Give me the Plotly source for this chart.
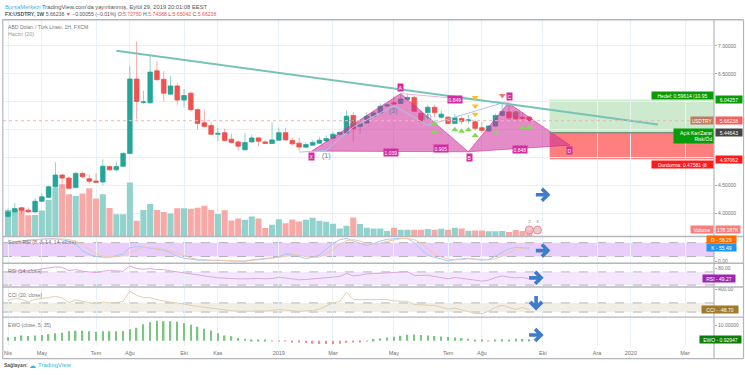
import plotly.graph_objects as go

W, H = 745, 375
# ---------- data (weekly bars, first bar = week of 2 Apr 2018) ----------
opens = [3.95,4.03,4.10,4.06,4.03,4.22,4.29,4.48,4.69,4.635,4.465,4.718,4.624,4.582,4.565,4.841,4.783,4.847,5.077,6.408,
 5.99,5.984,6.555,6.402,6.137,6.284,6.031,6.155,5.86,5.625,5.578,5.419,5.448,5.33,5.283,5.142,5.283,5.354,5.283,5.254,
 5.313,5.448,5.307,5.26,5.189,5.225,5.26,5.30,5.348,5.419,5.442,5.755,5.56,5.619,5.743,5.802,5.925,5.984,5.972,6.043,
 6.078,5.796,5.807,5.902,5.725,5.725,5.613,5.701,5.66,5.642,5.536,5.478,5.566,5.755,5.819,5.813,5.725,5.7275]
highs = [4.09,4.19,4.12,4.11,4.28,4.36,4.50,4.92,4.71,4.665,4.753,4.753,4.706,4.724,4.971,4.859,4.936,5.10,6.644,7.08,
 6.196,6.832,6.726,6.55,6.461,6.332,6.226,6.184,5.884,5.86,5.637,5.537,5.519,5.43,5.313,5.442,5.413,5.372,5.313,5.631,
 5.537,5.537,5.36,5.36,5.272,5.313,5.372,5.401,5.46,5.46,5.843,5.813,5.678,5.813,5.843,5.972,5.972,6.108,6.137,6.137,
 6.108,5.843,5.949,5.949,5.843,5.743,5.784,5.737,5.766,5.678,5.637,5.578,5.784,5.99,5.99,5.843,5.813,5.74388]
lows = [3.93,4.03,3.99,4.02,4.02,4.21,4.28,4.46,4.46,4.44,4.46,4.635,4.53,4.547,4.506,4.771,4.771,4.836,5.065,5.69,
 5.96,5.96,6.385,6.008,6.125,5.949,5.902,5.831,5.507,5.548,5.407,5.301,5.295,5.254,5.124,5.13,5.272,5.207,5.242,5.242,
 5.301,5.307,5.224,5.124,5.177,5.22,5.248,5.29,5.342,5.413,5.43,5.283,5.43,5.607,5.731,5.784,5.914,5.949,5.96,6.02,
 5.819,5.637,5.695,5.725,5.695,5.601,5.601,5.595,5.607,5.489,5.442,5.466,5.548,5.743,5.66,5.66,5.66,5.65042]
closes = [4.03,4.09,4.06,4.03,4.22,4.30,4.48,4.69,4.635,4.453,4.718,4.659,4.577,4.559,4.847,4.783,4.841,5.077,6.408,6.008,
 6.0,6.532,6.396,6.155,6.284,6.031,6.114,5.86,5.613,5.56,5.419,5.436,5.307,5.272,5.207,5.272,5.354,5.295,5.254,5.319,
 5.448,5.319,5.248,5.19,5.236,5.272,5.313,5.342,5.419,5.454,5.743,5.519,5.607,5.743,5.802,5.919,5.949,5.96,6.049,6.078,
 5.831,5.654,5.902,5.807,5.778,5.613,5.713,5.654,5.678,5.525,5.489,5.566,5.755,5.825,5.713,5.696,5.702,5.66238]
volumes_k = [790,790,870,630,640,770,1090,1470,1570,1270,1210,1290,1450,1140,1270,850,660,660,1620,460,
 790,970,790,730,680,840,840,830,860,920,790,670,780,470,530,490,590,530,240,340,
 510,390,500,440,490,550,460,430,370,230,310,560,360,250,230,230,150,250,190,190,
 190,190,210,190,220,190,250,230,160,170,170,140,140,150,120,180,150,178.187]
stoch_k = [78.5,84.2,87.1,91.4,94.3,95.7,97.1,97.1,92.8,87.1,75.7,44.2,29.9,19.9,17,17,24.2,29.9,58.5,62.8,
 61.4,55.6,49.9,47.1,37.1,21.3,12.7,7,4.2,4.2,4.2,4.2,2.7,0.5,0,0.5,5.6,9.9,11.3,14.2,
 18.5,31.3,29.9,19.9,11.3,17,27,51.4,75.7,92.8,98.5,87.1,75.7,67.1,75.7,87.1,94.3,97.1,98.5,98.5,
 80,51.4,27,15.6,9.9,0.5,7,9.9,12.7,7,4.2,7,21.3,37.1,52.8,59.9,58.5,55.49]
stoch_d = [76,78,83,87,91,94,95,96,96,93,85,70,50,31,22,18,19,24,37,50,
 61,60,56,51,45,35,24,14,8,5,4,4,4,3,1,0,2,5,9,12,
 15,21,27,27,20,16,18,32,51,73,89,93,87,77,73,77,86,93,97,98,
 93,77,53,31,18,9,6,6,10,10,8,6,11,22,37,50,57,58.29]
rsi = [71,72,73,75,76,79,82,85,84,73,77,72,70,68,72,74,73,72,88,80,
 78,80,77,77,73,70,68,63,60,57,54,52,51,49,49,49,50,50,49,50,
 54,51,49,46,47,49,51,53,55,56,65,58,60,64,65,67,67,68,70,71,
 59,60,60,56,53,49,53,51,48,45,42,45,53,58,54,52,53,49.27]
cci = [157,193,178,121,178,193,214,243,207,107,164,136,107,78,121,100,100,136,357,264,
 214,214,171,136,114,100,71,43,21,7,-14,-36,-57,-71,-79,-86,-79,-71,-79,-64,
 -43,-57,-79,-86,-71,-64,-36,36,100,128,335,171,171,186,186,186,171,143,136,136,
 64,57,64,43,7,-36,-14,-50,-79,-129,-136,-79,0,50,0,-43,0,-48.7]
ewo = [2.14,2.56,3.4,3.0,3.4,3.6,4.06,4.7,5.1,6.0,6.4,6.4,6.0,5.55,6.0,6.0,6.0,6.2,7.3,8.3,
 10.5,11.75,12.8,12.4,12.4,12.2,11.1,10.25,8.97,7.7,6.6,4.7,3.4,2.8,1.7,1.3,0.6,0.2,0.1,-0.2,
 -0.2,-0.3,-0.85,-1.2,-1.5,-1.9,-2.1,-2.1,-2.1,-1.9,-1.3,-1.1,-0.8,-0.3,1.1,1.5,2.1,2.5,3.2,3.8,
 4.0,3.6,3.4,3.0,2.6,2.3,2.1,1.7,1.3,0.6,0.2,-0.1,0.2,0.9,0.4,1.2,1.0,0.92947]
weeks = list(range(len(closes)))

x_tick_idx = [0,5,13,18,26,31,40,48,57,65,70,79,87,92,100]
x_tick_txt = ["Nis","May","Tem","Ağu","Eki","Kas","2019","Mar","May","Tem","Ağu","Eki","Ara","2020","Mar"]

trend_x, trend_y = [16, 96], [6.915, 5.595]
pat1_x, pat1_y = [44.86, 58, 68, 44.86], [5.118, 6.148, 5.106, 5.118]
pat2_x, pat2_y = [68, 73.9, 83, 68], [5.106, 5.979, 5.224, 5.106]
ac_x, ac_y = [58, 73.9], [6.148, 5.979]
wave_x = [43, 47, 51, 57, 62, 73]
wave_y = [5.10, 5.13, 5.55, 5.93, 5.58, 5.98]
up_x = [63,63,66,67,68,69,72,76,77]
up_y = [5.613,5.466,5.50,5.472,5.50,5.396,5.449,5.542,5.542]
yellow_x, yellow_y = [69,69,69], [6.078,5.926,5.777]
red_x, red_y = [73], [6.113]
LAST, TARGET, ENTRY, STOP = 5.66238, 6.04257, 5.44643, 4.97062
POS_X0 = 80

PINK = "#d52ca0"
GREEN, RED = "#26a69a", "#ef5350"
GREY = "#6f6f6f"
FONT = "Liberation Sans"

def dom(top, bot):
    return [(H - bot) / H, (H - top) / H]
XDOM = [3 / W, 714 / W]
XRANGE = [-0.74, 104.28]

fig = go.Figure()

# volume (base axis y)
fig.add_bar(x=weeks, y=volumes_k, yaxis="y", xaxis="x",
            marker_color=["#92d2cc" if c >= o else "#f7a9a7" for o, c in zip(opens, closes)],
            marker_line_width=0, width=0.9, hoverinfo="skip")

# candles: pale wicks (candlestick) + solid bodies (bars from open to close)
fig.add_candlestick(x=weeks, open=opens, high=highs, low=lows, close=closes, yaxis="y2", xaxis="x",
    increasing=dict(line=dict(color="rgba(38,166,154,0.5)", width=1), fillcolor="rgba(0,0,0,0)"),
    decreasing=dict(line=dict(color="rgba(239,83,80,0.5)", width=1), fillcolor="rgba(0,0,0,0)"),
    hoverinfo="skip", showlegend=False)
candle_cols = [GREEN if c >= o else RED for o, c in zip(opens, closes)]
fig.add_bar(x=weeks, y=[abs(c - o) for o, c in zip(opens, closes)], base=[min(o, c) for o, c in zip(opens, closes)],
            yaxis="y2", xaxis="x", width=0.72, marker_color=candle_cols,
            marker_line=dict(color=candle_cols, width=0.5), hoverinfo="skip")

# pattern triangles
for px_, py_ in ((pat1_x, pat1_y), (pat2_x, pat2_y)):
    fig.add_scatter(x=px_, y=py_, yaxis="y2", xaxis="x", mode="lines", fill="toself",
                    fillcolor="rgba(205,45,155,0.55)", line=dict(color="rgba(205,45,155,0.6)", width=1),
                    hoverinfo="skip")
fig.add_scatter(x=ac_x, y=ac_y, yaxis="y2", xaxis="x", mode="lines",
                line=dict(color="#eeb3dc", width=1), hoverinfo="skip")
fig.add_scatter(x=wave_x, y=wave_y, yaxis="y2", xaxis="x", mode="lines",
                line=dict(color="#a9c6e6", width=1), hoverinfo="skip")
# trend line
fig.add_scatter(x=trend_x, y=trend_y, yaxis="y2", xaxis="x", mode="lines",
                line=dict(color="#77c4b6", width=2), hoverinfo="skip")
# signal triangles
fig.add_scatter(x=up_x, y=up_y, yaxis="y2", xaxis="x", mode="markers", hoverinfo="skip",
                marker=dict(symbol="triangle-up", size=6, color="#83d85c", line_width=0))
fig.add_scatter(x=yellow_x, y=yellow_y, yaxis="y2", xaxis="x", mode="markers", hoverinfo="skip",
                marker=dict(symbol="triangle-down", size=6, color="#fbc02d", line_width=0))
fig.add_scatter(x=red_x, y=red_y, yaxis="y2", xaxis="x", mode="markers", hoverinfo="skip",
                marker=dict(symbol="triangle-down", size=6, color="#f6776b", line_width=0))
# event flags
fig.add_scatter(x=[77.0, 78.2], y=[3.705, 3.705], yaxis="y2", xaxis="x", mode="markers+text",
                text=["2", "3"], textposition="top center", textfont=dict(size=4, color="#777", family=FONT),
                marker=dict(symbol="circle", size=8, color="rgba(230,190,200,0.8)",
                            line=dict(color="#ef8a8a", width=1)), hoverinfo="skip")

# oscillators
fig.add_scatter(x=weeks, y=stoch_k, yaxis="y3", xaxis="x", mode="lines",
                line=dict(color="#a5c8f5", width=1), hoverinfo="skip")
fig.add_scatter(x=weeks, y=stoch_d, yaxis="y3", xaxis="x", mode="lines",
                line=dict(color="#f6c7a4", width=1), hoverinfo="skip")
fig.add_scatter(x=weeks, y=rsi, yaxis="y4", xaxis="x", mode="lines",
                line=dict(color="#d9a9e2", width=1), hoverinfo="skip")
fig.add_scatter(x=weeks, y=cci, yaxis="y5", xaxis="x", mode="lines",
                line=dict(color="#dfcfb0", width=1), hoverinfo="skip")
fig.add_bar(x=weeks, y=ewo, yaxis="y6", xaxis="x", width=0.22,
            marker_color=["#7cc481" if v >= 0 else "#f28b8b" for v in ewo],
            marker_line_width=0, hoverinfo="skip")

grid = "#e8f1f5"
def yax(domain, rng, vals, txt, **kw):
    return dict(domain=domain, range=rng, side="right", anchor="x", tickmode="array", tickvals=vals, ticktext=txt,
                tickfont=dict(size=5, color=GREY, family=FONT), ticks="outside", ticklen=2, tickcolor="#aaaaaa",
                tickwidth=1, showgrid=False, zeroline=False, showline=False, fixedrange=True, **kw)

price_vals = [7.0, 6.5, 4.5, 4.0]
hidden_grid_vals = [6.0, 5.5, 5.0]
layout = dict(
    width=W, height=H, autosize=False, margin=dict(l=0, r=0, t=0, b=0),
    paper_bgcolor="#ffffff", plot_bgcolor="#ffffff", showlegend=False, barmode="overlay",
    font=dict(family=FONT, size=5, color=GREY),
    xaxis=dict(domain=XDOM, range=XRANGE, anchor="y6", tickmode="array", tickvals=x_tick_idx, ticktext=x_tick_txt,
               tickfont=dict(size=5.5, color=GREY, family=FONT), ticks="", ticklabelstandoff=2,
               showgrid=True, gridcolor=grid, gridwidth=1,
               zeroline=False, showline=False, rangeslider=dict(visible=False), fixedrange=True),
    yaxis=dict(domain=dom(18, 236.5), range=[0, 6560], visible=False, fixedrange=True),
    yaxis2=dict(overlaying="y", side="right", anchor="x", range=[3.599, 7.468], tickmode="array",
                tickvals=price_vals, ticktext=[f"{v:.5f}" for v in price_vals],
                tickfont=dict(size=5, color=GREY, family=FONT), ticks="outside", ticklen=2, tickcolor="#aaaaaa",
                showgrid=True, gridcolor=grid, gridwidth=1, zeroline=False, showline=False, fixedrange=True,
                minor=dict(tickmode="array", tickvals=hidden_grid_vals, showgrid=True, gridcolor=grid, gridwidth=1, ticks="")),
    yaxis3=yax(dom(238, 263), [-4.6, 102.5], [0], ["0.00"]),
    yaxis4=yax(dom(264.5, 287.5), [26, 94.8], [80], ["80.00"]),
    yaxis5=yax(dom(288.5, 318), [-198, 436], [400], ["400.00"]),
    yaxis6=yax(dom(319, 348), [-3.6, 14.8], [10], ["10.00000"]),
)

shapes = []
def band(yref, lo, hi, color):
    shapes.append(dict(type="rect", xref="x domain", yref=yref, x0=0, x1=1, y0=lo, y1=hi,
                       fillcolor=color, line_width=0, layer="below"))
    for v in (lo, hi):
        shapes.append(dict(type="line", xref="x domain", yref=yref, x0=0, x1=1, y0=v, y1=v,
                           line=dict(color="#9a9a9a", width=0.7, dash="dash"), layer="below"))
band("y3", 20, 80, "#e9cdfb")
band("y4", 30, 70, "#f4e7fd")
band("y5", -100, 100, "#f1eee5")
# position tool
shapes.append(dict(type="rect", xref="x", yref="y2", x0=POS_X0, x1=XRANGE[1], y0=ENTRY, y1=TARGET,
                   fillcolor="rgba(76,175,80,0.28)", line_width=0, layer="below"))
shapes.append(dict(type="rect", xref="x", yref="y2", x0=POS_X0, x1=XRANGE[1], y0=STOP, y1=ENTRY,
                   fillcolor="rgba(255,0,0,0.5)", line_width=0, layer="below"))
shapes.append(dict(type="line", xref="x", yref="y2", x0=POS_X0, x1=XRANGE[1], y0=ENTRY, y1=ENTRY,
                   line=dict(color="#7d8f7d", width=1.5)))
# last price line
shapes.append(dict(type="line", xref="x", yref="y2", x0=XRANGE[0], x1=XRANGE[1], y0=LAST, y1=LAST,
                   line=dict(color="#f6b3b0", width=1, dash="dot")))
# frame and pane separators
FRAME = "#b4b6bc"
for yy in (18, 237, 264, 288, 318.5, 360.5):
    shapes.append(dict(type="line", xref="paper", yref="paper", x0=2.5/W, x1=743.5/W, y0=1-yy/H, y1=1-yy/H,
                       line=dict(color=FRAME, width=1.4)))
for xx, t, b in ((2.8, 18, 360.5), (714, 18, 360.5), (743.5, 18, 360.5)):
    shapes.append(dict(type="line", xref="paper", yref="paper", x0=xx/W, x1=xx/W, y0=1-t/H, y1=1-b/H,
                       line=dict(color=FRAME, width=1.2)))
# blue arrows, pixel-sized and anchored to chart coordinates
BLUE = "#3d7ccb"
RIGHT = "M-7,0 L4,0 M-1,6 L5,0 L-1,-6"
DOWN = "M0,7 L0,-4 M6,1 L0,-5 L-6,1"
for xv, yv, yr, p in ((79, 4.336, "y2", RIGHT), (79, 45.7, "y3", RIGHT), (78, 52, "y4", RIGHT),
                      (78, 100, "y5", DOWN), (78, 3.6, "y6", RIGHT)):
    shapes.append(dict(type="path", xref="x", yref=yr, xsizemode="pixel", ysizemode="pixel",
                       xanchor=xv, yanchor=yv, path=p, line=dict(color=BLUE, width=3.6)))
layout["shapes"] = shapes

ann = []
def page_text(x, y, text, size=5.3, color=GREY):
    ann.append(dict(xref="paper", yref="paper", x=x/W, y=1-y/H, text=text, showarrow=False, xanchor="left",
                    yanchor="middle", align="left", font=dict(size=size, color=color, family=FONT)))
R = "#ef5350"
D = "#555555"
page_text(3, 5, "<span style='color:#3bb3e4'>BorsaMerkezi</span> TradingView.com'da yayınlanmış, Eylül 29, 2019 20:01:08 EEST", 5.8, D)
page_text(3, 12, f"<b>FX:USDTRY, 1W</b> 5.66238 <span style='color:{R}'>▼</span> −0.00055 (−0.01%) "
                 f"O:<span style='color:{R}'>5.72750</span> H:<span style='color:{R}'>5.74388</span> "
                 f"L:<span style='color:{R}'>5.65042</span> C:<span style='color:{R}'>5.66238</span>", 5.15, D)
page_text(6, 25, "ABD Doları / Türk Lirası, 1H, FXCM", 5.1, "#777777")
page_text(6, 32, "Hacim (20)", 5.3, "#999999")
page_text(6, 243, "Stoch RSI (8, 3, 14, 14, close)", 5.1, "#777777")
page_text(6, 272, "RSI (14, close)", 5.1, "#777777")
page_text(6, 296, "CCI (20, close)", 5.1, "#777777")
page_text(6, 326, "EWO (close, 5, 35)", 5.1, "#777777")
page_text(2, 367, "<b>Sağlayan:</b>", 5, "#555555")
page_text(27, 367, "☁", 7, "#3bb3e4")
page_text(35.5, 367, "TradingView", 6, "#3bb3e4")

def tag(x, y, text, bg, color="#ffffff", yref="y2", xref="x", xanchor="center", size=5, **kw):
    ann.append(dict(xref=xref, yref=yref, x=x, y=y, text=text, showarrow=False, xanchor=xanchor, yanchor="middle",
                    bgcolor=bg, borderpad=0.5, font=dict(size=size, color=color, family=FONT), **kw))
# pattern tags
tag(44.9, 5.03, "X", PINK)
tag(58, 6.25, "A", PINK)
tag(68.1, 4.995, "B", PINK)
tag(74, 6.09, "C", PINK)
tag(83, 5.136, "D", PINK)
tag(66, 6.042, "0.849", PINK)
tag(56.6, 5.095, "1.039", PINK)
tag(64, 5.166, "0.905", PINK)
tag(75.6, 5.154, "0.848", PINK)
for xv, yv, s in ((47.1, 5.03, "(1)"), (50.8, 5.613, "(2)"), (57, 5.83, "(3)"), (62, 5.724, "(4)"), (75.1, 5.784, "(5)")):
    ann.append(dict(xref="x", yref="y2", x=xv, y=yv, text=s, showarrow=False,
                    font=dict(size=7, color="#6f7f95", family=FONT)))
# price scale tags
AX = 714.5 / W
tag(AX, TARGET, "6.04257", "#089c08", xref="paper", xanchor="left", width=25)
tag(AX, ENTRY, "5.44643", "#444444", xref="paper", xanchor="left", width=25)
tag(AX, STOP, "4.97062", "#ff1a1a", xref="paper", xanchor="left", width=25)
tag(AX, LAST, "5.66238", "#f45f5f", xref="paper", xanchor="left", width=25)
tag(713.5/W, LAST, "USDTRY", "#bd7a5e", xref="paper", xanchor="right", width=21)
tag(713.5/W, 6.12, "Hedef: 0.59614 (10.95", "#089c08", xref="paper", xanchor="right", width=60)
tag(713.5/W, 4.878, "Durdurma: 0.47581 (8", "#ff1a1a", xref="paper", xanchor="right", width=60)
tag(713.5/W, 5.383, "Açık Kar/Zarar<br>Risk/Öd", "#089c08", xref="paper", xanchor="right", width=38, align="right")
tag(715/W, 3.713, "178.187K", "#f57f7f", xref="paper", xanchor="left", width=23)
tag(713.5/W, 3.713, "Volume", "#f57f7f", xref="paper", xanchor="right", width=21)
tag(706/W, 94, "D - 58.29", "#ff6d00", yref="y3", xref="paper", xanchor="left", width=28)
tag(706/W, 58, "K - 55.49", "#2196f3", yref="y3", xref="paper", xanchor="left", width=28)
tag(702/W, 49.27, "RSI - 49.27", "#9c27b0", yref="y4", xref="paper", xanchor="left", width=31)
tag(701/W, -48.7, "CCI - -48.70", "#a07a2a", yref="y5", xref="paper", xanchor="left", width=35)
tag(698.5/W, 0.92947, "EWO - 0.92947", "#0a800a", yref="y6", xref="paper", xanchor="left", width=40)
layout["annotations"] = ann

fig.update_layout(**layout)
fig.write_html("out.html", config=dict(displayModeBar=False),
               post_script="document.body.style.margin='0';document.body.style.overflow='hidden';")
